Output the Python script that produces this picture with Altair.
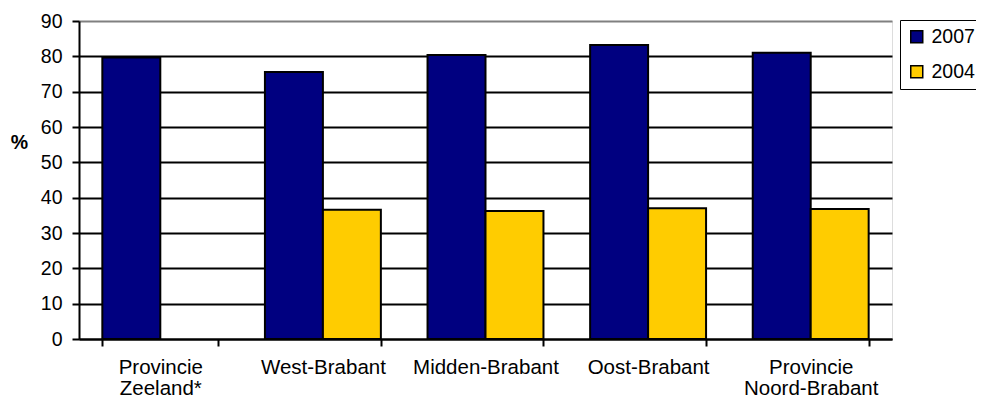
import altair as alt
import pandas as pd

regions = ["Provincie Zeeland*", "West-Brabant", "Midden-Brabant", "Oost-Brabant", "Provincie Noord-Brabant"]
values_2007 = [79.7, 75.6, 80.4, 83.2, 81.0]
values_2004 = [None, 36.6, 36.2, 37.0, 36.8]
years = ["2007", "2004"]
colors = ["#000080", "#FFCC00"]

rows = []
for r, v7, v4 in zip(regions, values_2007, values_2004):
    rows.append({"region": r, "year": "2007", "value": v7})
    if v4 is not None:
        rows.append({"region": r, "year": "2004", "value": v4})
df = pd.DataFrame(rows)

label_expr = "split(datum.label, ' ').length > 1 && datum.label != 'West-Brabant' ? [split(datum.label, ' ')[0], slice(datum.label, indexof(datum.label, ' ') + 1)] : datum.label"

font = "Liberation Sans"

chart = alt.Chart(df).mark_bar(stroke="black", strokeWidth=2).encode(
    x=alt.X("region:N", sort=regions,
            scale=alt.Scale(paddingInner=0.287, paddingOuter=0.1435),
            axis=alt.Axis(title=None, labelAngle=0, tickBand="extent", tickSize=7,
                          tickWidth=2, tickColor="black", domainColor="black",
                          domainWidth=2, labelFont=font, labelFontSize=20.5,
                          labelColor="black", labelPadding=11, labelLineHeight=21,
                          labelExpr=label_expr, grid=False)),
    xOffset=alt.XOffset("year:N", sort=years, scale=alt.Scale(paddingInner=0, paddingOuter=0)),
    y=alt.Y("value:Q", scale=alt.Scale(domain=[0, 90], nice=False),
            axis=alt.Axis(title="%", values=list(range(0, 91, 10)), tickSize=7,
                          tickWidth=2, tickColor="black", domainColor="black",
                          domainWidth=2, labelFont=font, labelFontSize=19.5,
                          labelColor="black", labelPadding=10,
                          gridColor={"condition": {"test": "datum.value === 90", "value": "#808080"}, "value": "black"},
                          gridWidth=2,
                          titleAngle=0, titleX=-60, titleY=121, titleAlign="center",
                          titleBaseline="middle", titleFont=font, titleFontSize=19.5,
                          titleFontWeight="bold", titleColor="black")),
    color=alt.Color("year:N", sort=years,
                    scale=alt.Scale(domain=years, range=colors),
                    legend=alt.Legend(title=None, orient="none", legendX=821, legendY=-1,
                                      strokeColor="black", padding=7, symbolType="square",
                                      symbolSize=144, symbolStrokeColor="black",
                                      symbolStrokeWidth=1.5, labelFont=font, labelFontSize=19.5,
                                      labelColor="black", labelOffset=5, rowPadding=14)),
).properties(
    width=813, height=318,
    autosize=alt.AutoSizeParams(type="none"),
    padding={"left": 71, "top": 13, "right": 84, "bottom": 61},
).configure_view(stroke="#808080", strokeWidth=2).configure(background="white")

chart.save("out.html", embed_options={"renderer": "svg", "actions": False})
